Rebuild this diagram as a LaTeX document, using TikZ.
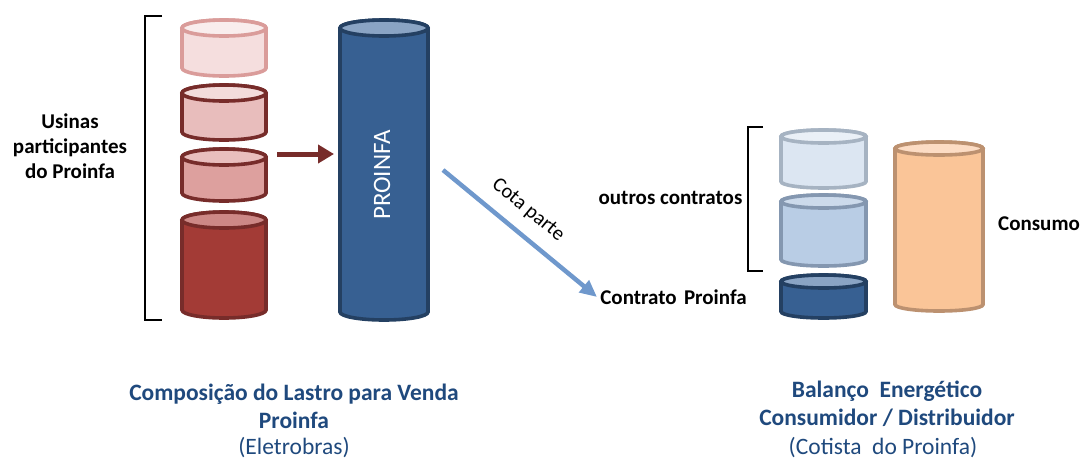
\documentclass[tikz,border=0pt]{standalone}
\usepackage{fontspec}
\setmainfont{Carlito}
\usetikzlibrary{arrows.meta}
\definecolor{titleblue}{HTML}{1F497D}
\definecolor{redA}{HTML}{F5DEDE}\definecolor{redAt}{HTML}{F9EDED}\definecolor{redAs}{HTML}{DA9C9A}
\definecolor{redB}{HTML}{E8BDBC}\definecolor{redBt}{HTML}{F3DCDB}
\definecolor{redC}{HTML}{DDA09E}\definecolor{redCt}{HTML}{E9BEBD}
\definecolor{redD}{HTML}{A33B36}\definecolor{redDt}{HTML}{CD8886}
\definecolor{redS}{HTML}{772C2A}
\definecolor{blueF}{HTML}{376092}\definecolor{blueS}{HTML}{244062}\definecolor{blueT}{HTML}{8AA4C4}
\definecolor{lbA}{HTML}{DCE6F2}\definecolor{lbAt}{HTML}{EAF0F7}\definecolor{lbAs}{HTML}{A6B3C2}
\definecolor{lbB}{HTML}{B9CDE5}\definecolor{lbBt}{HTML}{CCDAEB}\definecolor{lbBs}{HTML}{8497B0}
\definecolor{orF}{HTML}{FAC598}\definecolor{orT}{HTML}{FCDCC4}\definecolor{orS}{HTML}{BC9170}
\definecolor{arrowblue}{HTML}{6F98CC}
\newcommand\cylshape[8]{%
  \draw[cylline, draw=#7, fill=#6] (#1-#2,-#3) -- (#1-#2,-#4)
    arc[start angle=180,end angle=360,x radius=#2,y radius=#5] -- (#1+#2,-#3)
    arc[start angle=0,end angle=180,x radius=#2,y radius=#5] -- cycle;
  \draw[cylline, draw=#7, fill=#8] (#1,-#3) ellipse[x radius=#2, y radius=#5];
}
\begin{document}
\begin{tikzpicture}[x=1pt,y=1pt,
  cylline/.style={line width=3.6pt},
  brk/.style={line width=1.1pt, black},
  lbl/.style={font=\fontsize{21}{25}\selectfont\bfseries, align=center, inner sep=0pt},
  ttl/.style={font=\fontsize{23.5}{28}\selectfont\bfseries, text=titleblue, align=center, inner sep=0pt},
  sub/.style={font=\fontsize{23.5}{28}\selectfont, text=titleblue, inner sep=0pt}]
\useasboundingbox (0,0) rectangle (1083,-459);
% left bracket
\draw[brk] (162,-16) -- (145,-16) -- (145,-320) -- (162,-320);
% left stack
\cylshape{224}{42}{28}{68}{8}{redA}{redAs}{redAt}
\cylshape{224}{42}{93}{132}{8}{redB}{redS}{redBt}
\cylshape{224}{42}{157}{193}{8}{redC}{redS}{redCt}
\cylshape{224}{42}{220}{310}{8}{redD}{redS}{redDt}
% PROINFA cylinder
\cylshape{384}{44}{28}{312}{8}{blueF}{blueS}{blueT}
\node[font=\fontsize{25}{28}\selectfont, text=white, rotate=90, inner sep=0pt] (proinfa) at (382,-175) {PROINFA};
% red arrow
\coordinate (ra) at (277,-154);
\coordinate (rb) at (334,-154);
\draw[redS, line width=5pt, -{Triangle[length=16pt,width=18pt]}] (ra) -- (rb);
% blue arrow
\coordinate (ba) at (443,-170);
\coordinate (bb) at (597,-297);
\draw[arrowblue, line width=4.5pt, -{Triangle[length=17pt,width=15pt]}] (ba) -- (bb);
\node[font=\fontsize{20.5}{24}\selectfont, rotate=-39.5, inner sep=0pt] (cota) at (528,-210) {Cota parte};
% right bracket
\draw[brk] (763,-127) -- (748,-127) -- (748,-271) -- (763,-271);
% right stack
\cylshape{823.5}{42.5}{136.5}{181.5}{6.5}{lbA}{lbAs}{lbAt}
\cylshape{823.5}{42.5}{201.5}{259.5}{6.5}{lbB}{lbBs}{lbBt}
\cylshape{823.5}{42.5}{281.5}{311.5}{6.5}{blueF}{blueS}{blueT}
% orange
\cylshape{939}{44}{148.5}{304.5}{6.5}{orF}{orS}{orT}
% labels
\node[lbl] (usinas) at (70,-146) {Usinas\\participantes\\do Proinfa};
\node[lbl] (outros) at (670.5,-198) {outros contratos};
\node[lbl] (contrato) at (673.5,-297) {Contrato\hspace{0.35em}Proinfa};
\node[lbl] (consumo) at (1039,-224) {Consumo};
% titles
\node[ttl] (t1) at (294,-406) {Composição do Lastro para Venda\\Proinfa};
\node[sub] (s1) at (294,-448) {(Eletrobras)};
\node[ttl] (t2) at (887,-404) {Balanço\hspace{0.45em}Energético\\Consumidor / Distribuidor};
\node[sub] (s2) at (883,-448) {(Cotista\hspace{0.45em}do Proinfa)};
\end{tikzpicture}
\end{document}
